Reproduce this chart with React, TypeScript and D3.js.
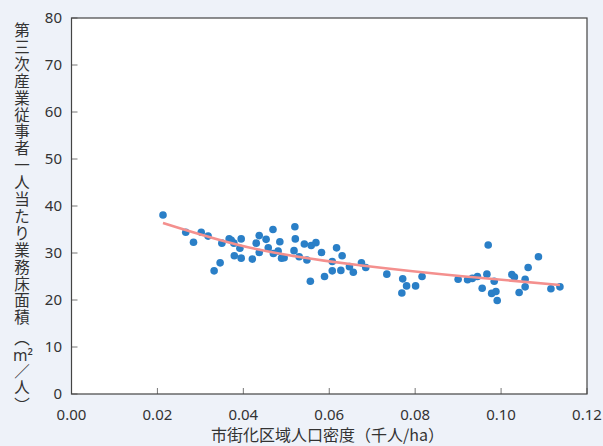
import React from "react";
import * as d3 from "d3";

const densityX: number[] = [
  0.0213, 0.0266, 0.0284, 0.0302, 0.0318, 0.035, 0.0367, 0.0372, 0.0378, 0.0395,
  0.0392, 0.0379, 0.0395, 0.0346, 0.0332, 0.0421, 0.043, 0.0437, 0.0437, 0.0453,
  0.0469, 0.0458, 0.047, 0.0485, 0.0481, 0.0489, 0.0495, 0.052, 0.0521, 0.0518,
  0.053, 0.0542, 0.0558, 0.0569, 0.0548, 0.0582, 0.0556, 0.0589, 0.0617, 0.063,
  0.0607, 0.0607, 0.0627, 0.0647, 0.0656, 0.0675, 0.0685, 0.0734, 0.0771, 0.078,
  0.0769, 0.0801, 0.0816, 0.09, 0.0922, 0.0933, 0.0945, 0.0967, 0.097, 0.0956,
  0.0984, 0.0978, 0.0988, 0.0991, 0.1025, 0.1031, 0.1042, 0.1056, 0.1056, 0.1063,
  0.1087, 0.1116, 0.1137,
];
const floorAreaY: number[] = [
  38.1, 34.4, 32.3, 34.4, 33.6, 32.1, 33.0, 32.7, 32.1, 33.0,
  31.0, 29.4, 28.9, 27.9, 26.2, 28.7, 32.1, 33.7, 30.1, 32.9,
  35.0, 31.1, 29.9, 32.4, 30.4, 28.9, 29.0, 35.6, 33.0, 30.5,
  29.2, 31.9, 31.6, 32.2, 28.5, 30.1, 24.0, 25.0, 31.1, 29.4,
  28.2, 26.2, 26.3, 27.1, 25.9, 27.9, 26.9, 25.5, 24.5, 23.0,
  21.5, 23.0, 25.0, 24.4, 24.3, 24.6, 25.0, 25.5, 31.7, 22.5,
  24.0, 21.4, 21.8, 19.9, 25.4, 24.9, 21.6, 24.4, 22.8, 26.9,
  29.2, 22.4, 22.8,
];
const trendX: number[] = [0.0213, 0.0427, 0.0671, 0.0916, 0.1137];
const trendY: number[] = [36.4, 30.9, 27.4, 25.0, 23.2];

const xTicks: number[] = [0, 0.02, 0.04, 0.06, 0.08, 0.1, 0.12];
const yTicks: number[] = [0, 10, 20, 30, 40, 50, 60, 70, 80];

const yLabelMain: string[] = "第三次産業従事者一人当たり業務床面積".split("");
const xLabel = "市街化区域人口密度（千人/ha）";

const W = 603;
const H = 446;
const L = 71.5;
const R = 587;
const T = 18;
const B = 394;

const FONT = "'Noto Sans', 'Noto Sans CJK JP', sans-serif";
const CJK = "'Noto Sans CJK JP', 'Noto Sans', sans-serif";

export default function App() {
  const x = d3.scaleLinear().domain([0, 0.12]).range([L, R]);
  const y = d3.scaleLinear().domain([0, 80]).range([B, T]);

  const trendPts: [number, number][] = trendX.map((v, i) => [v, trendY[i]]);
  const line = d3
    .line<[number, number]>()
    .x((d) => x(d[0]))
    .y((d) => y(d[1]))
    .curve(d3.curveNatural);

  const step = 16.9;
  const y0 = 30.5;
  const lastY = y0 + (yLabelMain.length - 1) * step;
  const lfs = 15.5;

  return (
    <svg
      width={W}
      height={H}
      style={{ position: "absolute", left: 0, top: 0, background: "#EEF2F9" }}
    >
      <rect x={L} y={T} width={R - L} height={B - T} fill="#ffffff" />
      {yTicks.map((t) => (
        <g key={"y" + t}>
          <line x1={L} x2={L + 6} y1={y(t)} y2={y(t)} stroke="#777" strokeWidth={1} />
          <text
            x={62}
            y={y(t)}
            dy="0.35em"
            textAnchor="end"
            fontFamily={FONT}
            fontSize={15}
            fill="#333"
          >
            {t}
          </text>
        </g>
      ))}
      {xTicks.map((t) => (
        <g key={"x" + t}>
          <line x1={x(t)} x2={x(t)} y1={B} y2={B - 6} stroke="#777" strokeWidth={1} />
          <text
            x={x(t)}
            y={420}
            textAnchor="middle"
            fontFamily={FONT}
            fontSize={15}
            fill="#333"
          >
            {t.toFixed(2)}
          </text>
        </g>
      ))}
      <rect
        x={L}
        y={T}
        width={R - L}
        height={B - T}
        fill="none"
        stroke="#444"
        strokeWidth={1.2}
      />
      {densityX.map((v, i) => (
        <circle key={i} cx={x(v)} cy={y(floorAreaY[i])} r={3.8} fill="#2A7FC7" />
      ))}
      <path d={line(trendPts) || ""} fill="none" stroke="#F4908E" strokeWidth={2.6} />
      {yLabelMain.map((c, i) => (
        <text
          key={"yl" + i}
          x={22}
          y={y0 + i * step}
          dy="0.36em"
          textAnchor="middle"
          fontFamily={CJK}
          fontSize={lfs}
          fill="#333"
        >
          {c}
        </text>
      ))}
      <text x={22} y={lastY + 21} dy="0.36em" textAnchor="middle" fontFamily={CJK} fontSize={lfs} fill="#333">
        ︵
      </text>
      <text x={23} y={lastY + 38} dy="0.36em" textAnchor="middle" fontFamily={FONT} fontSize={lfs} fill="#333">
        m²
      </text>
      <text x={22} y={lastY + 54} dy="0.36em" textAnchor="middle" fontFamily={CJK} fontSize={lfs} fill="#333">
        ／
      </text>
      <text x={22} y={lastY + 70} dy="0.36em" textAnchor="middle" fontFamily={CJK} fontSize={lfs} fill="#333">
        人
      </text>
      <text x={22} y={lastY + 88} dy="0.36em" textAnchor="middle" fontFamily={CJK} fontSize={lfs} fill="#333">
        ︶
      </text>
      <text
        x={327.5}
        y={441}
        textAnchor="middle"
        fontFamily={CJK}
        fontSize={16}
        fill="#333"
      >
        {xLabel}
      </text>
    </svg>
  );
}
